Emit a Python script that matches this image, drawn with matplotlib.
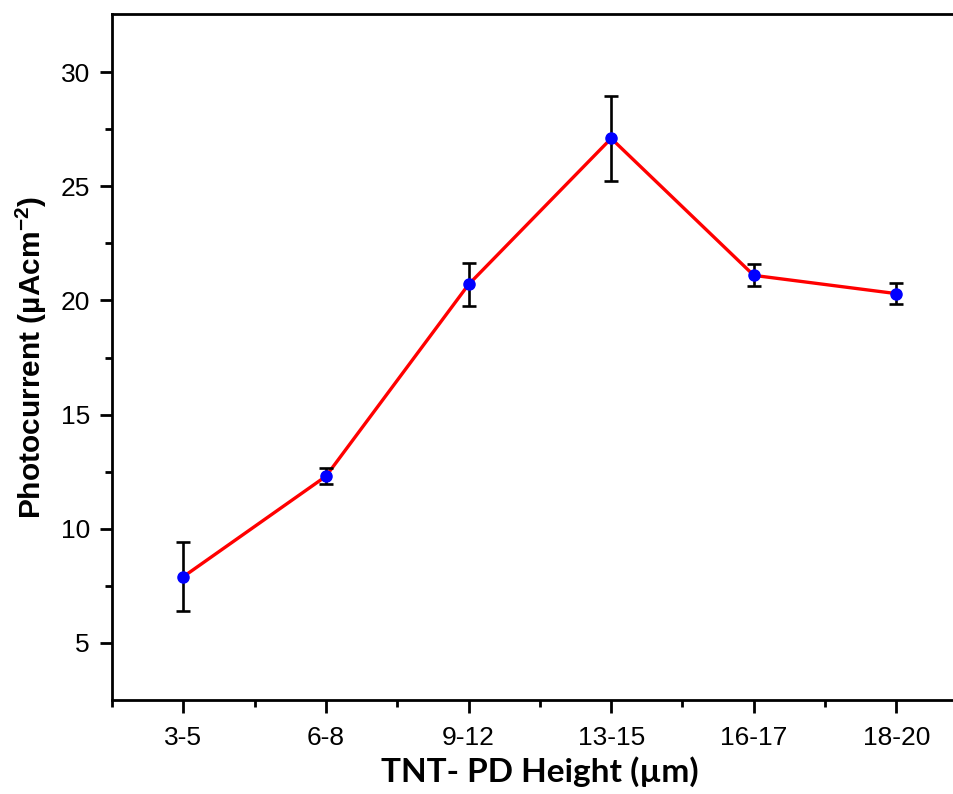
import matplotlib
matplotlib.use("Agg")
import matplotlib.pyplot as plt
import numpy as np

plt.rcParams['font.family'] = ['Liberation Sans', 'DejaVu Sans']
plt.rcParams['mathtext.default'] = 'regular'

heights = ["3-5", "6-8", "9-12", "13-15", "16-17", "18-20"]
photocurrent = [7.9, 12.3, 20.7, 27.1, 21.1, 20.3]
errors = [1.5, 0.35, 0.95, 1.85, 0.48, 0.45]

fig = plt.figure(figsize=(9.54, 7.94), dpi=100)
ax = fig.add_axes([0.1174, 0.1184, 0.897, 0.864])

x = np.arange(len(heights))
ax.plot(x, photocurrent, color='red', lw=2.4, zorder=2)
ax.errorbar(x, photocurrent, yerr=errors, fmt='none', ecolor='black',
            elinewidth=1.9, capsize=5, capthick=1.9, zorder=3)
ax.plot(x, photocurrent, 'o', color='blue', ms=8, zorder=4)

ax.set_xlim(-0.5, 5.5)
ax.set_ylim(2.5, 32.55)
ax.set_xticks(x)
ax.set_xticklabels(heights)
ax.set_xticks(np.arange(-0.5, 5.6, 1), minor=True)
ax.set_yticks([5, 10, 15, 20, 25, 30])
ax.set_yticks(np.arange(7.5, 32.5, 5), minor=True)

for s in ax.spines.values():
    s.set_linewidth(2.0)
ax.tick_params(which='major', direction='out', length=9, width=2.0, labelsize=19)
ax.tick_params(axis='x', which='major', pad=10)
ax.tick_params(axis='y', which='major', pad=7)
ax.tick_params(which='minor', direction='out', length=5, width=2.0)

ax.set_ylabel('Photocurrent (µAcm$^{-2}$)', fontsize=21.5, fontweight='bold', labelpad=8)
ax.set_xlabel('TNT- PD Height (µm)', fontsize=24, fontweight='bold',
              family=['Lato', 'DejaVu Sans'], labelpad=4)

fig.savefig('out.png', dpi=100)
